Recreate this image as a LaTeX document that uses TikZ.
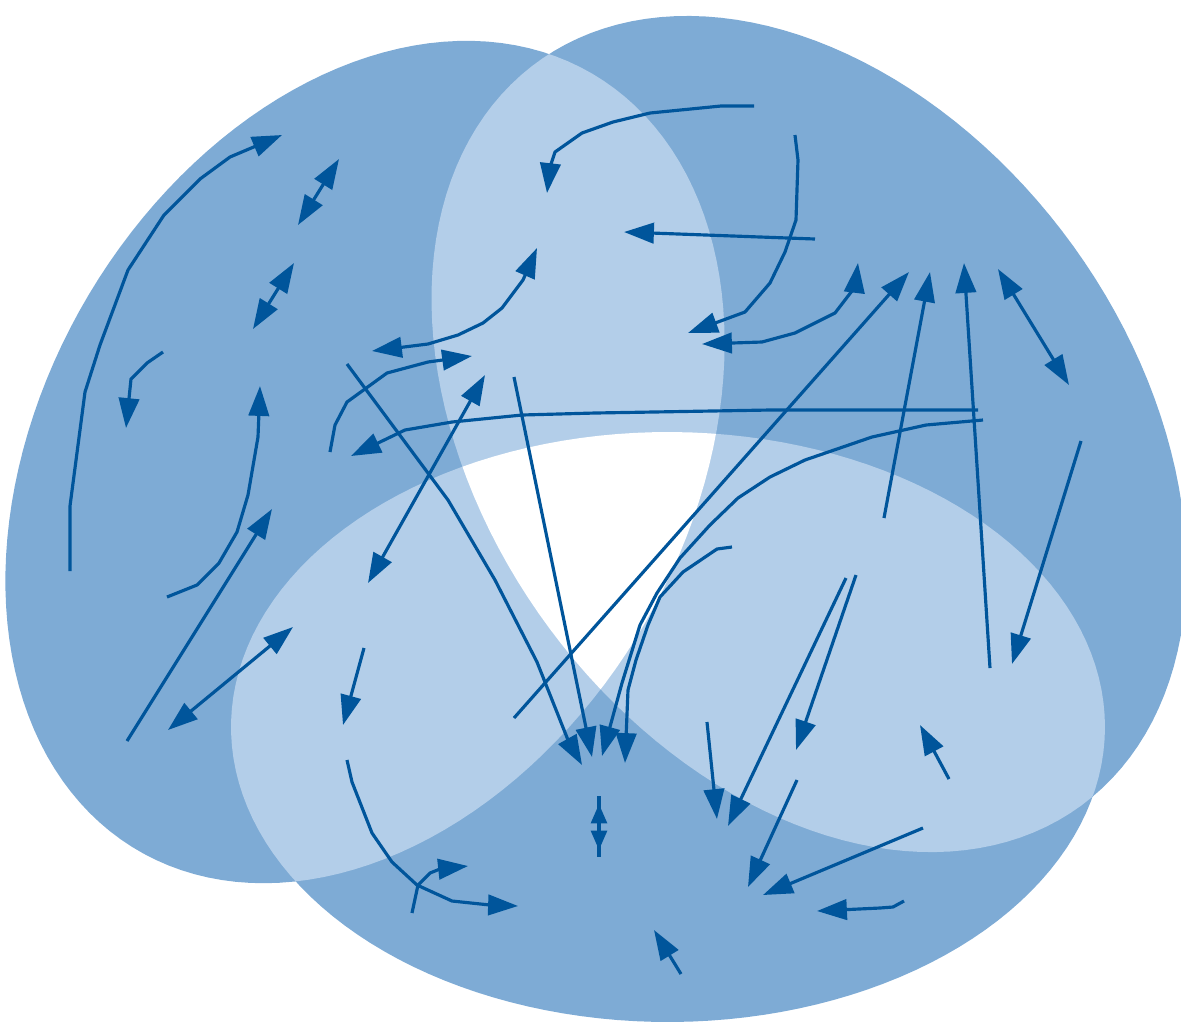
\documentclass[tikz,border=0pt]{standalone}
\usetikzlibrary{arrows.meta}
\definecolor{midb}{HTML}{7EABD5}
\definecolor{lightb}{HTML}{B3CEE9}
\definecolor{linec}{HTML}{00559B}
\begin{document}
\begin{tikzpicture}[x=0.01cm,y=-0.01cm,
  flow/.style={draw=linec, line width=0.9pt, line join=round, -{Triangle[length=8.5pt,width=5.8pt]}},
  flowtwo/.style={draw=linec, line width=0.9pt, line join=round, {Triangle[length=8.5pt,width=5.8pt]}-{Triangle[length=8.5pt,width=5.8pt]}},
  flowsmall/.style={draw=linec, line width=0.9pt, {Triangle[length=5.5pt,width=4.5pt]}-{Triangle[length=5.5pt,width=4.5pt]}}]
\def\shapeA{plot[domain=0:360,samples=150,variable=\t] ({365+227.25*cos(\t)+278.75*sin(\t)},{462-388.35*cos(\t)+163.12*sin(\t)}) -- cycle}
\def\shapeR{plot[domain=0:360,samples=150,variable=\t] ({809+272.16*cos(\t)-261.63*sin(\t)},{434+371.62*cos(\t)+191.60*sin(\t)}) -- cycle}
\def\shapeB{plot[domain=0:360,samples=150,variable=\t] ({668+437*cos(\t)},{727+295*sin(\t)}) -- cycle}
\useasboundingbox (0,0) rectangle (1181,1023);
% regions
\fill[midb] \shapeA;
\fill[midb] \shapeR;
\fill[midb] \shapeB;
\begin{scope}
  \clip \shapeA;
  \fill[lightb] \shapeR;
  \fill[lightb] \shapeB;
\end{scope}
\begin{scope}
  \clip \shapeR;
  \fill[lightb] \shapeB;
\end{scope}
\begin{scope}
  \clip \shapeA;
  \clip \shapeR;
  \fill[white] \shapeB;
\end{scope}
% flow arrows
\draw[flow] (70,571) -- (70,506) -- (85,392) -- (100,345) -- (128,270) -- (164,215) -- (200,179) -- (230,157) -- (282,135);
\draw[flowtwo] (298,225) -- (339,159);
\draw[flowtwo] (253,329) -- (294,263);
\draw[flow] (163,352) -- (147,363) -- (131,379) -- (126,428);
\draw[flow] (167,597) -- (197,585) -- (219,563) -- (237,532) -- (248,495) -- (258,437) -- (260,386);
\draw[flow] (127,741) -- (272,509);
\draw[flowtwo] (168,730) -- (293,627);
\draw[flow] (754,106) -- (721,106) -- (650,113) -- (613,122) -- (582,133) -- (555,152) -- (550,167) -- (547,193);
\draw[flowtwo] (537,248) -- (523,280) -- (502,308) -- (483,323) -- (458,335) -- (428,344) -- (372,351);
\draw[flow] (330,452) -- (335,425) -- (347,402) -- (387,373) -- (428,362) -- (472,356);
\draw[flow] (347,364) -- (448,500) -- (495,580) -- (537,662) -- (568,740) -- (582,765);
\draw[flow] (514,377) -- (592,757);
\draw[flow] (514,718) -- (909,272);
\draw[flowtwo] (368,583) -- (485,375);
\draw[flow] (983,420) -- (926,425) -- (872,437) -- (805,460) -- (770,477) -- (738,498) -- (710,525) -- (680,558) -- (657,593) -- (640,625) -- (622,683) -- (602,756);
\draw[flow] (978,410) -- (770,410) -- (595,413) -- (522,415) -- (452,422) -- (405,430) -- (351,456);
\draw[flow] (815,239) -- (624,232);
\draw[flow] (795,135) -- (798,160) -- (796,220) -- (785,252) -- (770,283) -- (745,312) -- (688,333);
\draw[flowtwo] (702,344) -- (762,342) -- (795,333) -- (835,313) -- (855,287) -- (858,263);
\draw[flow] (884,518) -- (930,272);
\draw[flow] (990,668) -- (964,263);
\draw[flowtwo] (998,269) -- (1069,385);
\draw[flow] (1081,441) -- (1012,664);
\draw[flow] (364,648) -- (343,725);
\draw[flow] (347,760) -- (352,782) -- (372,833) -- (392,862) -- (417,885) -- (452,901) -- (490,905) -- (518,906);
\draw[flow] (412,913) -- (418,885) -- (430,873) -- (440,869) -- (468,866);
\draw[draw=linec, line width=0.9pt] (599,796) -- (599,857);
\draw[flowsmall] (599,804) -- (599,850);
\draw[flow] (707,722) -- (717,819);
\draw[flow] (846,578) -- (728,826);
\draw[flow] (856,575) -- (796,750);
\draw[flow] (797,780) -- (748,887);
\draw[flow] (923,828) -- (763,895);
\draw[flow] (904,901) -- (893,907) -- (880,908) -- (817,911);
\draw[flow] (681,974) -- (654,930);
\draw[flow] (949,779) -- (920,725);
\draw[flow] (732,547) -- (717,549) -- (683,572) -- (660,597) -- (648,625) -- (636,660) -- (628,690) -- (625,763);
\end{tikzpicture}
\end{document}
